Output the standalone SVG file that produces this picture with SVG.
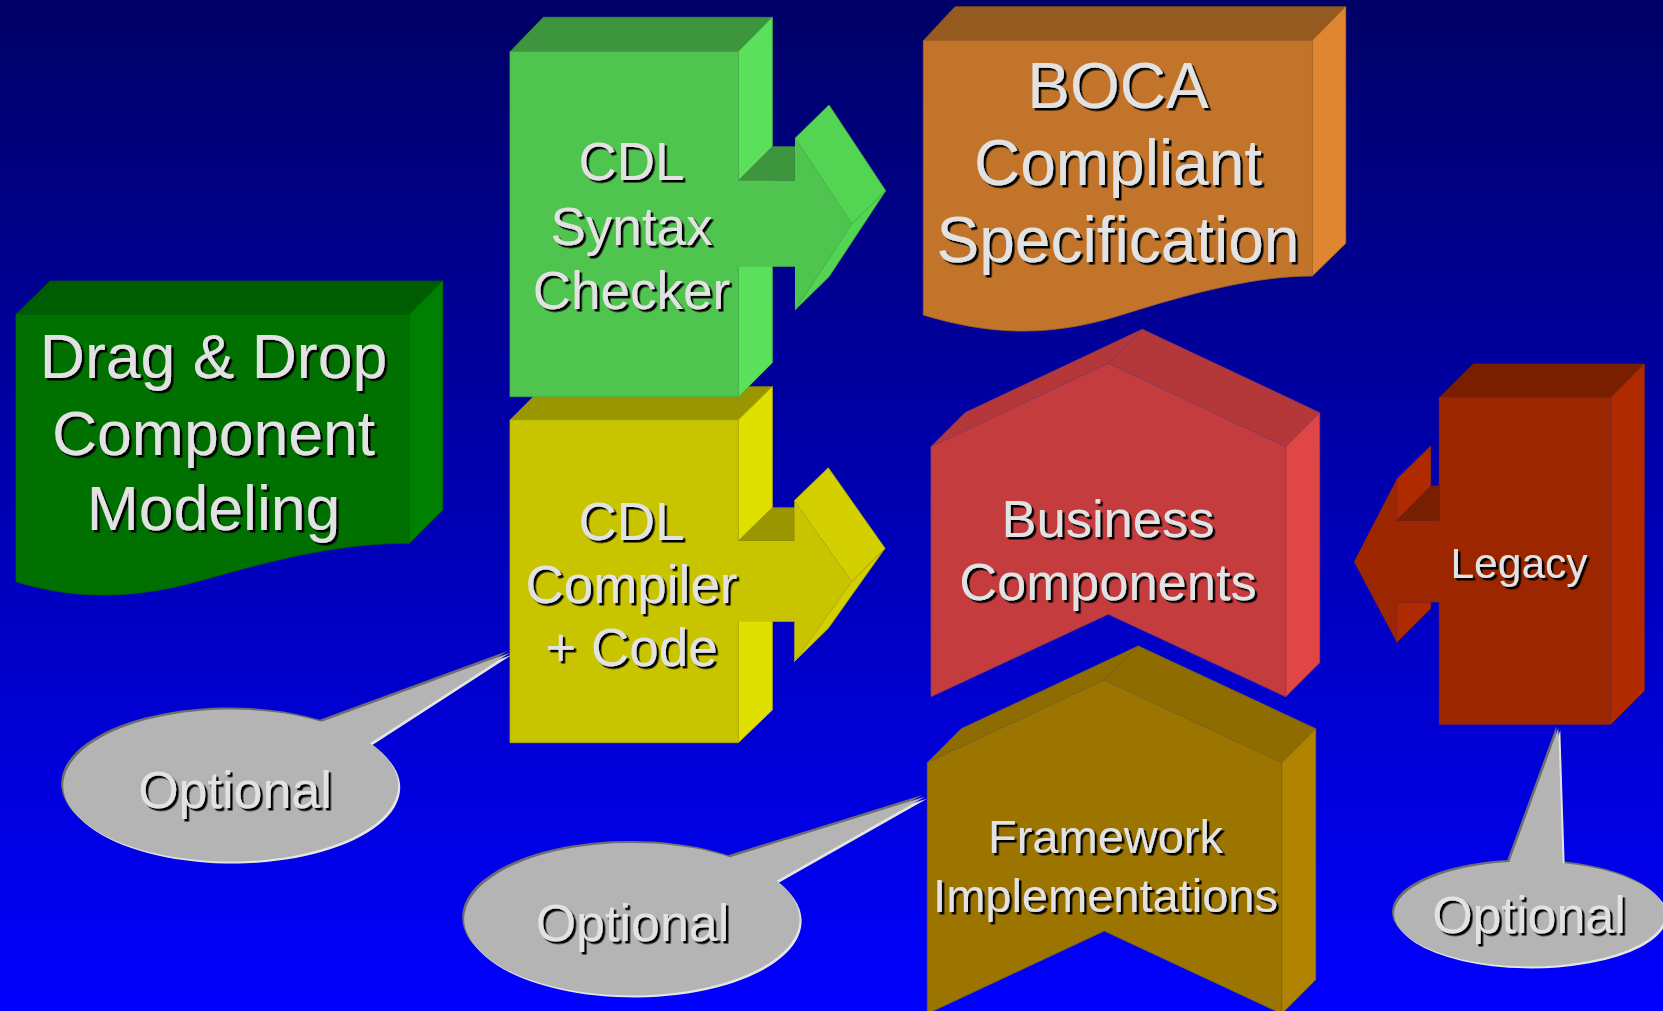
<svg xmlns="http://www.w3.org/2000/svg" width="1663" height="1011" viewBox="0 0 1663 1011">
<defs>
<linearGradient id="bg" x1="0" y1="0" x2="0" y2="1">
<stop offset="0" stop-color="#000066"/>
<stop offset="1" stop-color="#0000FF"/>
</linearGradient>
<filter id="ts" x="-10%" y="-10%" width="130%" height="140%">
<feDropShadow dx="2.5" dy="2.5" stdDeviation="0" flood-color="#000" flood-opacity="1"/>
</filter>
</defs>
<style>
text{font-family:"Liberation Sans",Arial,sans-serif;fill:#E2E2E2;text-anchor:middle;filter:url(#ts)}
.e{stroke-width:0.8;stroke-linejoin:round}
.gF{fill:#4FC44F;stroke:#46AE46}.gT{fill:#3D963D;stroke:#3A8A3A}.gR{fill:#5AE05A;stroke:#4FC44F}.gH{fill:#53D453;stroke:#47B047}
.yF{fill:#C8C400;stroke:#B0AC00}.yT{fill:#999600;stroke:#8C8A00}.yR{fill:#E0E000;stroke:#C8C400}.yH{fill:#D4D000;stroke:#B0AC00}
.oF{fill:#C2752A;stroke:#A86424}.oT{fill:#955A20;stroke:#8A521C}.oR{fill:#E08530;stroke:#C2752A}
.dF{fill:#007000;stroke:#006400}.dT{fill:#005C00;stroke:#005000}.dR{fill:#008000;stroke:#007000}
.rF{fill:#C43C3E;stroke:#8E3A5A}.rT{fill:#B4383A;stroke:#8E3A5A}.rR{fill:#E04646;stroke:#A04050}
.fF{fill:#9C7400;stroke:#7E6420}.fT{fill:#8E6C00;stroke:#7E6420}.fR{fill:#B08400;stroke:#8E6C00}
.lF{fill:#9C2600;stroke:#882A20}.lT{fill:#7A1E00;stroke:#6E2010}.lR{fill:#B02A00;stroke:#902A10}
.cD{fill:#6E6E6E}.cL{fill:#E4E4E4}.cM{fill:#B4B4B4}
</style>
<rect x="0" y="0" width="1663" height="1011" fill="url(#bg)"/>

<g id="node-drag-drop">
<polygon class="e dT" points="16,314.3 50,281 442.7,281 409.3,314.3"/>
<polygon class="e dR" points="409.3,314.3 442.7,281 442.7,510 409.3,543.3"/>
<path class="e dF" d="M16,314.3 H409.3 V543.3 C350,543 290,555 210,578 C120,605 60,595 16,581.7 Z"/>
<text font-size="62.5"><tspan x="213.5" y="378">Drag &amp; Drop</tspan><tspan x="213.5" y="455">Component</tspan><tspan x="213.5" y="530">Modeling</tspan></text>
</g>

<g id="node-cdl-compiler">
<polygon class="e yT" points="510,420 543.3,386.7 772.3,386.7 738.3,420"/>
<polygon class="e yR" points="738.3,420 772.3,386.7 772.3,710 738.3,742.7"/>
<rect class="e yF" x="510" y="420" width="228.3" height="322.7"/>
</g>

<g id="node-cdl-syntax">
<polygon class="e gT" points="510,51.7 543.3,17.3 772.3,17.3 738.3,51.7"/>
<polygon class="e gR" points="738.3,51.7 772.3,17.3 772.3,362.7 738.3,396.7"/>
<rect class="e gF" x="510" y="51.7" width="228.3" height="345"/>
</g>

<g id="node-boca">
<polygon class="e oT" points="923.3,40.7 955,6.7 1345.7,6.7 1312.3,40.7"/>
<polygon class="e oR" points="1312.3,40.7 1345.7,6.7 1345.7,243.3 1312.3,276"/>
<path class="e oF" d="M923.3,40.7 H1312.3 V276 C1260,276 1200,290 1118,316 C1040,340 980,332 923.3,315 Z"/>
<text font-size="64"><tspan x="1118" y="108">BOCA</tspan><tspan x="1118" y="185">Compliant</tspan><tspan x="1118" y="261.5">Specification</tspan></text>
</g>

<g id="node-business">
<polygon class="e rT" points="931,446.7 965,412.7 1142.3,329.3 1108.3,363.3"/>
<polygon class="e rT" points="1108.3,363.3 1142.3,329.3 1319.7,412.7 1285.7,446.7"/>
<polygon class="e rR" points="1285.7,446.7 1319.7,412.7 1319.7,662.7 1285.7,696.7"/>
<polygon class="e rF" points="931,446.7 1108.3,363.3 1285.7,446.7 1285.7,696.7 1108.3,614.3 931,696.7"/>
<text font-size="52.5"><tspan x="1108" y="536.5">Business</tspan><tspan x="1108" y="600">Components</tspan></text>
</g>

<g id="node-framework">
<polygon class="e fT" points="927.3,762.7 961.3,728.7 1138.3,646 1104.3,680"/>
<polygon class="e fT" points="1104.3,680 1138.3,646 1315.7,728.7 1281.7,762.7"/>
<polygon class="e fR" points="1281.7,762.7 1315.7,728.7 1315.7,979.7 1281.7,1013.7"/>
<polygon class="e fF" points="927.3,762.7 1104.3,680 1281.7,762.7 1281.7,1013.7 1104.3,931 927.3,1013.7"/>
<text font-size="47"><tspan x="1105.5" y="853">Framework</tspan><tspan x="1105.5" y="911.5">Implementations</tspan></text>
</g>

<g id="node-legacy">
<polygon class="e lT" points="1439.3,397.7 1473.3,364 1644.3,364 1610.7,397.7"/>
<polygon class="e lR" points="1610.7,397.7 1644.3,364 1644.3,690.7 1610.7,724.3"/>
<rect class="e lF" x="1439.3" y="397.7" width="171.4" height="326.6"/>
</g>

<g id="connectors">
<g id="arrow-syntax">
<polygon class="e gT" points="738.3,180.7 772.3,146.7 795,146.7 795,180.7"/>
<polygon class="e gH" points="795,138.3 829,105 885.7,190.7 851.7,224"/>
<polygon class="e gH" points="851.7,224 885.7,190.7 829,276.7 795,310"/>
<polygon fill="#4FC44F" points="737.5,180.7 795,180.7 795,138.3 851.7,224 795,310 795,266.7 737.5,266.7"/>
</g>
<g id="arrow-compiler">
<polygon class="e yT" points="738.3,541 772.3,507.7 794.3,507.7 794.3,541"/>
<polygon class="e yH" points="794.3,500.7 828.3,467.7 885,548.3 851.7,581.7"/>
<polygon class="e yH" points="851.7,581.7 885,548.3 828.3,628.3 794.3,661.7"/>
<polygon fill="#C8C400" points="737.5,541 794.3,541 794.3,500.7 851.7,581.7 794.3,661.7 794.3,621.7 737.5,621.7"/>
</g>
<g id="arrow-legacy">
<polygon class="e lR" points="1396.7,479.3 1430.7,446 1430.7,486 1396.7,520.7"/>
<polygon class="e lT" points="1396.7,520.7 1430.7,486 1439.3,486 1439.3,520.7"/>
<polygon class="e lR" points="1396.7,602.3 1430.7,602.3 1430.7,608.3 1396.7,642.3"/>
<polygon fill="#9C2600" points="1440,520.7 1396.7,520.7 1396.7,479.3 1354,561.7 1396.7,642.3 1396.7,602.3 1440,602.3"/>
</g>
</g>

<g id="callout-compiler">
<path class="cD" transform="translate(-2,-2)" d="M321.7,721.7 L510,652.7 L370,743.3 A167.5,76 0 1 1 321.7,721.7 Z"/>
<path class="cL" transform="translate(2,2)" d="M321.7,721.7 L510,652.7 L370,743.3 A167.5,76 0 1 1 321.7,721.7 Z"/>
<path class="cM" d="M321.7,721.7 L510,652.7 L370,743.3 A167.5,76 0 1 1 321.7,721.7 Z"/>
<text font-size="52" x="235" y="808">Optional</text>
</g>

<g id="callout-framework">
<path class="cD" transform="translate(-2,-2)" d="M730,857.3 L925,796.7 L776.7,880.7 A167.7,76.3 0 1 1 730,857.3 Z"/>
<path class="cL" transform="translate(2,2)" d="M730,857.3 L925,796.7 L776.7,880.7 A167.7,76.3 0 1 1 730,857.3 Z"/>
<path class="cM" d="M730,857.3 L925,796.7 L776.7,880.7 A167.7,76.3 0 1 1 730,857.3 Z"/>
<text font-size="52" x="632.5" y="940.5">Optional</text>
</g>

<g id="callout-legacy">
<path class="cD" transform="translate(-2,-2)" d="M1509.3,862 L1558.3,728.3 L1562.7,863 A135.5,52.5 0 1 1 1509.3,862 Z"/>
<path class="cL" transform="translate(2,2)" d="M1509.3,862 L1558.3,728.3 L1562.7,863 A135.5,52.5 0 1 1 1509.3,862 Z"/>
<path class="cM" d="M1509.3,862 L1558.3,728.3 L1562.7,863 A135.5,52.5 0 1 1 1509.3,862 Z"/>
<text font-size="52" x="1529" y="933">Optional</text>
</g>

<g id="labels-cdl">
<text font-size="53"><tspan x="631.5" y="180">CDL</tspan><tspan x="631.5" y="245">Syntax</tspan><tspan x="631.5" y="308.5">Checker</tspan></text>
<text font-size="53"><tspan x="631.5" y="539.5">CDL</tspan><tspan x="631.5" y="602.5">Compiler</tspan><tspan x="631.5" y="666">+ Code</tspan></text>
<text font-size="42.5" x="1519" y="578.3">Legacy</text>
</g>
</svg>
